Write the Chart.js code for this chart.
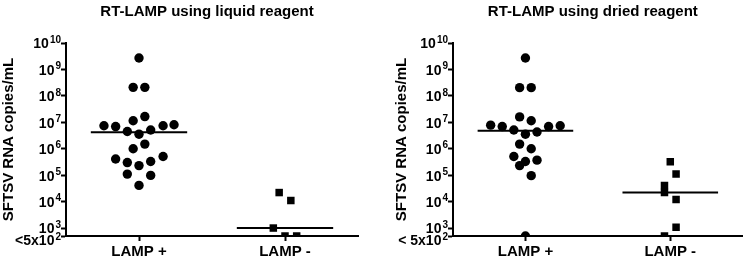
<!DOCTYPE html>
<html>
<head>
<meta charset="utf-8">
<script src="https://cdn.jsdelivr.net/npm/chart.js@4/dist/chart.umd.min.js"></script>
<style>
  body { margin: 0; background: #fff; }
  #wrap { display: flex; width: 748px; height: 260px; }
  canvas { display: block; }
</style>
</head>
<body>
<div id="wrap">
  <canvas id="liquidChart" width="374" height="260"></canvas>
  <canvas id="driedChart" width="374" height="260"></canvas>
</div>
<script>
// categories and axis ticks
const groups = ["LAMP +", "LAMP -"];
const yTicks = [500, 1e3, 1e4, 1e5, 1e6, 1e7, 1e8, 1e9, 1e10];
const liquidTickLabels = ["<5x10^2", "10^3", "10^4", "10^5", "10^6", "10^7", "10^8", "10^9", "10^10"];
const driedTickLabels = ["< 5x10^2", "10^3", "10^4", "10^5", "10^6", "10^7", "10^8", "10^9", "10^10"];

// liquid reagent (x = group position incl. scatter spread, y = copies/mL)
const liquidPosX = [1.0, 0.96, 1.04, 0.76, 0.84, 0.96, 1.04, 1.165, 1.24, 0.92, 1.0, 1.08,
  0.96, 1.04, 0.84, 0.92, 1.0, 1.08, 1.165, 0.92, 1.08, 1.0];
const liquidPosY = [2.7e9, 2.1e8, 2.1e8, 7.4e6, 6.9e6, 1.15e7, 1.65e7, 7.4e6, 8.1e6, 4.5e6, 3.55e6, 5.1e6,
  1.0e6, 1.5e6, 4.1e5, 3.0e5, 2.3e5, 3.3e5, 5.1e5, 1.1e5, 9.8e4, 4.1e4];
const liquidNegX = [1.96, 2.04, 1.92, 2.0, 2.08];
const liquidNegY = [2.2e4, 1.1e4, 1.0e3, 500, 500];
const liquidMedians = [4.2e6, 1.0e3];

// dried reagent
const driedPosX = [1.0, 0.96, 1.04, 0.76, 0.84, 0.96, 1.04, 1.16, 1.24, 0.92, 1.0, 1.08,
  0.96, 1.04, 0.92, 1.0, 1.08, 0.96, 1.04, 1.0];
const driedPosY = [2.7e9, 2.05e8, 2.05e8, 7.8e6, 6.9e6, 1.6e7, 1.15e7, 6.9e6, 7.4e6, 5.1e6, 3.55e6, 4.3e6,
  1.5e6, 1.0e6, 5.1e5, 3.3e5, 3.7e5, 2.3e5, 9.6e4, 500];
const driedNegX = [2.0, 2.04, 1.96, 1.96, 2.04, 2.04, 1.96];
const driedNegY = [3.2e5, 1.1e5, 4.1e4, 2.2e4, 1.2e4, 1.07e3, 500];
const driedMedians = [4.8e6, 2.2e4];

const FONT = "'Liberation Sans', Arial, sans-serif";
const medianHalf = 0.33;

// draws the superscript y tick labels and the panel title
const panelText = {
  id: "panelText",
  afterDraw(chart, args, opts) {
    const ctx = chart.ctx;
    const y = chart.scales.y;
    const right = y.right - 5;
    ctx.save();
    ctx.fillStyle = "#000";
    ctx.textBaseline = "middle";
    ctx.textAlign = "right";
    y.ticks.forEach((t, i) => {
      const [base, exp] = opts.labels[i].split("^");
      // the lowest label sits a bit under its tick, as in the original
      const py = y.getPixelForValue(t.value) + (i === 0 ? 4 : 0);
      ctx.font = "bold 10px " + FONT;
      ctx.fillText(exp, right, py - 3);
      const w = ctx.measureText(exp).width;
      ctx.font = "bold 14px " + FONT;
      ctx.fillText(base, right - w - 1, py + 1.5);
    });
    ctx.font = "bold 15px " + FONT;
    ctx.textAlign = "center";
    ctx.fillText(opts.title, (chart.chartArea.left + chart.chartArea.right) / 2 - 5, 11.5);
    ctx.restore();
  },
};

function axisLines() {
  return {
    grid: { drawOnChartArea: false, drawTicks: true, tickLength: 5, tickColor: "#000", tickWidth: 2 },
    border: { color: "#000", width: 2 },
  };
}

function makePanel(id, title, tickLabels, posX, posY, negX, negY, medians, yWidth, rightPad, yTitlePad) {
  const ctx = document.getElementById(id).getContext("2d");
  const medianLine = (g) => ({
    type: "line",
    data: [{ x: g + 1 - medianHalf, y: medians[g] }, { x: g + 1 + medianHalf, y: medians[g] }],
    borderColor: "#000",
    borderWidth: 2,
    pointRadius: 0,
    fill: false,
  });

  return new Chart(ctx, {
    type: "scatter",
    data: {
      datasets: [
        {
          data: posX.map((x, i) => ({ x, y: posY[i] })),
          pointStyle: "circle",
          pointRadius: 4.7,
          backgroundColor: "#000",
          borderWidth: 0,
        },
        {
          data: negX.map((x, i) => ({ x, y: negY[i] })),
          pointStyle: "rect",
          pointRadius: 5.3,
          backgroundColor: "#000",
          borderWidth: 0,
        },
        medianLine(0),
        medianLine(1),
      ],
    },
    options: {
      responsive: false,
      animation: false,
      events: [],
      layout: { padding: { top: 43, right: rightPad, bottom: 0, left: 0 } },
      plugins: {
        legend: { display: false },
        tooltip: { enabled: false },
        panelText: { title, labels: tickLabels },
      },
      scales: {
        x: {
          type: "linear",
          min: 0.5,
          max: 2.5,
          afterBuildTicks: (s) => { s.ticks = groups.map((g, i) => ({ value: i + 1 })); },
          afterFit: (s) => { s.height = 24; },
          ticks: {
            callback: (v, i) => groups[i],
            font: { family: FONT, size: 15, weight: "bold" },
            color: "#000",
            padding: 2,
            autoSkip: false,
            maxRotation: 0,
          },
          ...axisLines(),
        },
        y: {
          type: "logarithmic",
          min: 500,
          max: 1e10,
          afterBuildTicks: (s) => { s.ticks = yTicks.map((v) => ({ value: v })); },
          afterFit: (s) => { s.width = yWidth; },
          ticks: { display: false },
          title: {
            display: true,
            text: "SFTSV RNA copies/mL",
            font: { family: FONT, size: 15, weight: "bold" },
            color: "#000",
            padding: { top: yTitlePad, bottom: 0 },
          },
          ...axisLines(),
        },
      },
    },
    plugins: [panelText],
  });
}

makePanel("liquidChart", "RT-LAMP using liquid reagent", liquidTickLabels,
  liquidPosX, liquidPosY, liquidNegX, liquidNegY, liquidMedians, 66, 16, 0);
makePanel("driedChart", "RT-LAMP using dried reagent", driedTickLabels,
  driedPosX, driedPosY, driedNegX, driedNegY, driedMedians, 79, 4, 19);
</script>
</body>
</html>
